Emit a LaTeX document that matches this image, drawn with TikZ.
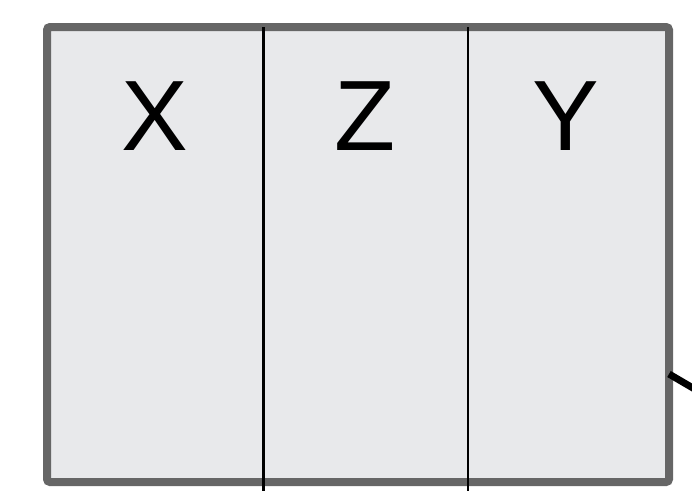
\documentclass[tikz,border=0pt]{standalone}
\usepackage{fontspec}
\setmainfont{Liberation Sans}
\usepackage{tikz}
\usetikzlibrary{calc}
\definecolor{cellgray}{HTML}{E8E9EB}
\definecolor{framegray}{HTML}{666666}

\begin{document}
\begin{tikzpicture}[
  x=1pt,y=-1pt,
  panel/.style={draw=framegray,fill=cellgray,line width=8pt,
                rounded corners=3pt,inner sep=0pt,outer sep=0pt},
  divider/.style={draw=black,line width=2.6pt},
  lbl/.style={font=\fontsize{100}{100}\selectfont,anchor=base,inner sep=0pt},
  link/.style={draw=black,line width=7pt}
]
\useasboundingbox (0,0) rectangle (692,491);
\node[panel,minimum width=622pt,minimum height=455pt] (frame) at (358,254.5) {};

\coordinate (d1) at (263.5,491);
\coordinate (d2) at (468,491);
\draw[divider] (d1 |- frame.north) -- (d1);
\draw[divider] (d2 |- frame.north) -- (d2);

\node[lbl] (lx) at (155,150) {X};
\node[lbl] (lz) at (365.5,150) {Z};
\node[lbl] (ly) at (566,150) {Y};

\coordinate (tail) at (710,398);
\draw[link] (frame.east |- 0,374) -- (tail);
\end{tikzpicture}
\end{document}
